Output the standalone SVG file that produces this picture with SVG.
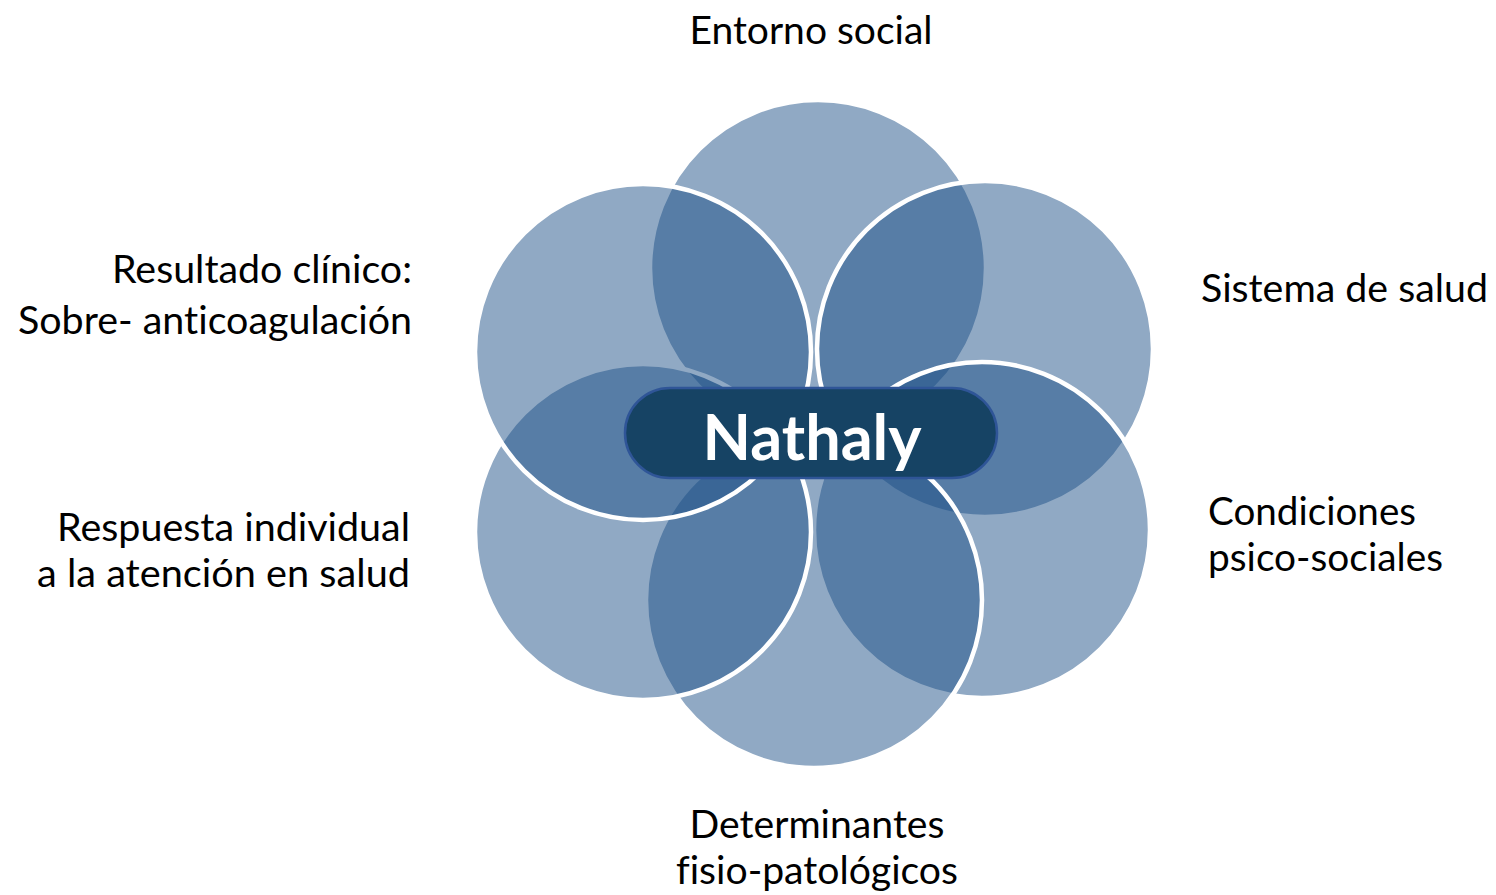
<svg xmlns="http://www.w3.org/2000/svg" width="1496" height="895" viewBox="0 0 1496 895">
<style>
.petal{fill:#1C5087;fill-opacity:0.49;stroke:#ffffff;stroke-width:4.5}
.lbl{font-family:Lato,"Liberation Sans",sans-serif;font-size:38px;fill:#000000;font-variant-ligatures:none;font-feature-settings:"liga" 0}
.ctr{font-family:Lato,"Liberation Sans",sans-serif;font-size:63px;font-weight:bold;fill:#ffffff}
</style>
<rect width="1496" height="895" fill="#ffffff"/>
<g id="petals">
<g id="entorno-social"><circle class="petal" cx="818" cy="268" r="168"/></g>
<g id="sistema-de-salud"><circle class="petal" cx="985" cy="349" r="168"/></g>
<g id="condiciones"><circle class="petal" cx="982" cy="530" r="168"/></g>
<g id="determinantes"><circle class="petal" cx="814" cy="600" r="168"/></g>
<g id="respuesta"><circle class="petal" cx="643" cy="532" r="168"/></g>
<g id="resultado"><circle class="petal" cx="643" cy="352" r="168"/></g>
</g>
<g id="center">
<rect x="625" y="388" width="372" height="90" rx="45" fill="#164364" stroke="#2F5597" stroke-width="2.5"/>
<text class="ctr" x="812" y="460" text-anchor="middle" textLength="219" lengthAdjust="spacingAndGlyphs">Nathaly</text>
</g>
<g id="labels">
<text class="lbl" x="811" y="44" text-anchor="middle" textLength="243" lengthAdjust="spacingAndGlyphs">Entorno social</text>
<text class="lbl" x="1201" y="302" textLength="287" lengthAdjust="spacingAndGlyphs">Sistema de salud</text>
<text class="lbl" x="1208" y="525" textLength="208" lengthAdjust="spacingAndGlyphs">Condiciones</text>
<text class="lbl" x="1208" y="571" textLength="235" lengthAdjust="spacingAndGlyphs">psico-sociales</text>
<text class="lbl" x="817" y="838" text-anchor="middle" textLength="255" lengthAdjust="spacingAndGlyphs">Determinantes</text>
<text class="lbl" x="817" y="884" text-anchor="middle" textLength="282" lengthAdjust="spacingAndGlyphs">fisio-patológicos</text>
<text class="lbl" x="410" y="541" text-anchor="end" textLength="353" lengthAdjust="spacingAndGlyphs">Respuesta individual</text>
<text class="lbl" x="410" y="587" text-anchor="end" textLength="373" lengthAdjust="spacingAndGlyphs">a la atención en salud</text>
<text class="lbl" x="412" y="283" text-anchor="end" textLength="300" lengthAdjust="spacingAndGlyphs">Resultado clínico:</text>
<text class="lbl" x="412" y="334" text-anchor="end" textLength="394" lengthAdjust="spacingAndGlyphs">Sobre- anticoagulación</text>
</g>
</svg>
